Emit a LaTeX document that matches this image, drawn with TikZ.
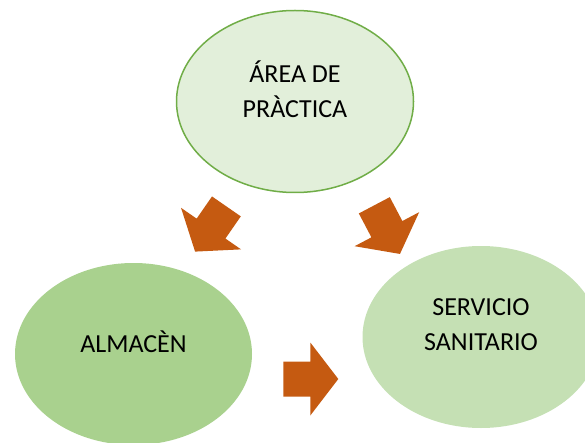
\documentclass[tikz,border=0pt]{standalone}
\usepackage{fontspec}
\setmainfont{Carlito}
\usepackage{tikz}
\usetikzlibrary{shapes, positioning, calc}

\definecolor{arroworange}{HTML}{C55A11}
\definecolor{palegreen}{HTML}{E2EFDA}
\definecolor{midgreen}{HTML}{A9D18E}
\definecolor{softgreen}{HTML}{C5E0B4}
\definecolor{edgegreen}{HTML}{70AD47}

\begin{document}
\begin{tikzpicture}[
    x=1pt, y=1pt,
    bubble/.style={ellipse, minimum width=237pt, minimum height=182pt, inner sep=0pt},
    bubbletext/.style={align=center, inner sep=0pt, font=\fontsize{26}{35}\selectfont},
    blockarrow/.pic={
        \fill[arroworange] (0,-17.5) -- (27,-17.5) -- (27,-36.5) -- (55,0)
            -- (27,36.5) -- (27,17.5) -- (0,17.5) -- cycle;
    },
]
    \useasboundingbox (0,0) rectangle (585,442);
    \clip (0,0) rectangle (585,442);

    \node[bubble, fill=palegreen, draw=edgegreen, line width=1.5pt] (area) at (295,340.5) {};
    \node[bubble, fill=midgreen] (almacen) at (133.5,88) {};
    \node[bubble, fill=softgreen] (servicio) at (481,105) {};

    \node[bubbletext] (areatxt) at ([yshift=12pt]area.center) {ÁREA DE\\PRÀCTICA};
    \node[bubbletext] (almacentxt) at ([yshift=12pt]almacen.center) {ALMACÈN};
    \node[bubbletext] (serviciotxt) at ([yshift=12pt]servicio.center) {SERVICIO\\SANITARIO};

    % block arrows
    \pic (toalmacen) at (226.4,235.6) [rotate=235.3] {blockarrow};
    \pic (toservicio) at (374.3,236.7) [rotate=-62.2] {blockarrow};
    \pic (almtoserv) at (283.3,63) {blockarrow};
\end{tikzpicture}
\end{document}
